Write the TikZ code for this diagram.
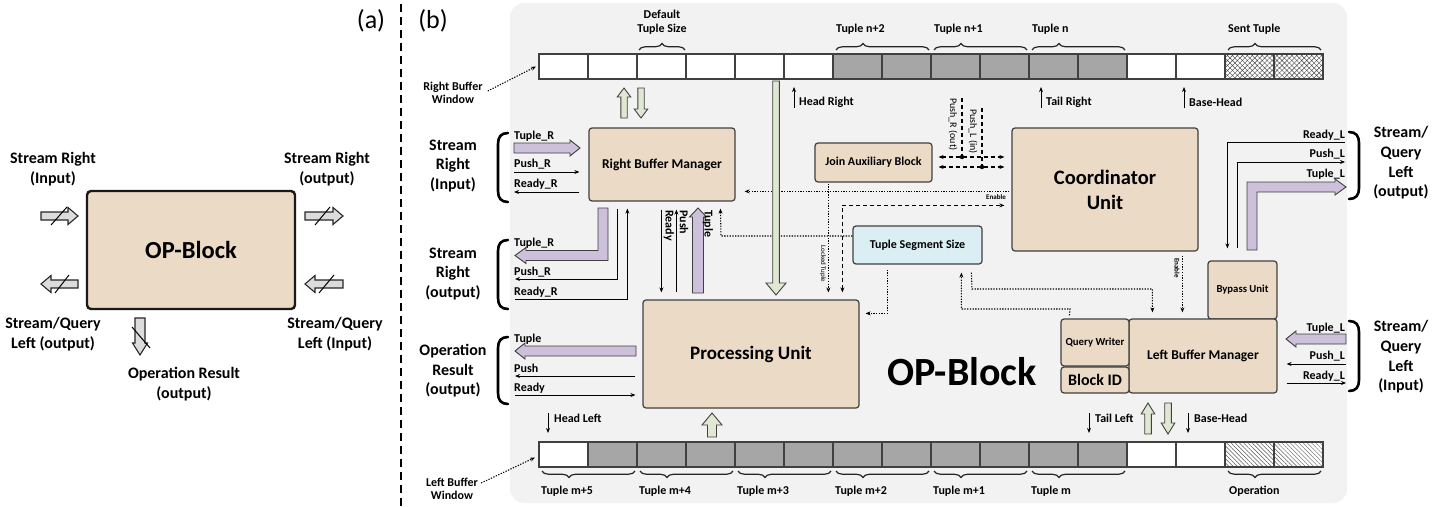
\documentclass[tikz,border=0pt]{standalone}
\usepackage{fontspec}
\setmainfont{Carlito}
\usetikzlibrary{arrows.meta,calc,patterns.meta,decorations.pathreplacing}

\definecolor{tanfill}{RGB}{235,218,198}
\definecolor{panel}{RGB}{242,242,242}
\definecolor{edge}{RGB}{64,64,64}
\definecolor{lilac}{RGB}{204,192,218}
\definecolor{sage}{RGB}{224,231,210}
\definecolor{ice}{RGB}{218,238,243}
\definecolor{slot}{RGB}{166,166,166}
\definecolor{steel}{RGB}{220,220,220}

\newcommand\setfs[2]{\fontsize{#1}{#2}\selectfont}

% vertical block arrow: style, x, y of tail, y of tip, shaft half width, head half width, head length
\newcommand\vfat[7]{%
  \pgfmathsetmacro\fatbase{#4-(#7)*sign(#4-#3)}%
  \filldraw[#1] ({#2-#5},#3) -- ({#2-#5},\fatbase) -- ({#2-#6},\fatbase) -- (#2,#4)
    -- ({#2+#6},\fatbase) -- ({#2+#5},\fatbase) -- ({#2+#5},#3) -- cycle;}
% horizontal block arrow: style, y, x of tail, x of tip, shaft half width, head half width, head length
\newcommand\hfat[7]{%
  \pgfmathsetmacro\fatbase{#4-(#7)*sign(#4-#3)}%
  \filldraw[#1] (#3,{#2-#5}) -- (\fatbase,{#2-#5}) -- (\fatbase,{#2-#6}) -- (#4,#2)
    -- (\fatbase,{#2+#6}) -- (\fatbase,{#2+#5}) -- (#3,{#2+#5}) -- cycle;}
% signal-group brackets on the left and right edges of the panel
\newcommand\openbrk[2]{\draw[brk] (508,#1) .. controls (501,#1) and (498,{#1+4}) .. (498,{#1+11})
    -- (498,{#2-11}) .. controls (498,{#2-4}) and (501,#2) .. (508,#2);}
\newcommand\closebrk[2]{\draw[brk] (1349,#1) .. controls (1356,#1) and (1359,{#1+4}) .. (1359,{#1+11})
    -- (1359,{#2-11}) .. controls (1359,{#2-4}) and (1356,#2) .. (1349,#2);}

\tikzset{
  blk/.style={draw=edge, line width=1.2pt, fill=tanfill, rounded corners=3pt, inner sep=0pt, align=center},
  lbl/.style={font=\setfs{12}{13.5}\bfseries, inner sep=0pt},
  minilbl/.style={font=\setfs{7}{8}\bfseries, inner sep=0pt},
  biglbl/.style={font=\setfs{16}{19.6}\bfseries, align=center, inner sep=0pt},
  alabel/.style={font=\setfs{16}{20}\bfseries, align=center, inner sep=0pt},
  wire/.style={line width=1pt},
  ptr/.style={-{Stealth[length=5pt,width=4pt]}},
  dptr/.style={{Stealth[length=5pt,width=4pt]}-{Stealth[length=5pt,width=4pt]}},
  dotline/.style={line width=1.05pt, dash pattern=on 1.3pt off 1.4pt},
  dashline/.style={line width=1.2pt, dash pattern=on 4pt off 3pt},
  blockarrow/.style={draw=edge, line width=0.9pt, line join=miter},
  brk/.style={line width=2.6pt, line cap=round},
  cell/.style={draw=edge, line width=1.1pt, minimum width=49pt, minimum height=25pt, inner sep=0pt, outer sep=0pt},
  tbrace/.style={decorate, decoration={brace, amplitude=6.5pt, aspect=#1}, line width=1.2pt, draw=black!85},
  tbrace/.default=0.29,
  bbrace/.style={decorate, decoration={brace, mirror, amplitude=6.5pt, aspect=#1}, line width=1.2pt, draw=black!85},
  bbrace/.default=0.29,
}

\begin{document}
\begin{tikzpicture}[x=1pt,y=-1pt]
\useasboundingbox (0,0) rectangle (1450,506);

%% ================= panel (a): the block as a symbol =================
\node[font=\setfs{26}{30}, inner sep=0pt] (taga) at (371,21) {(a)};
\draw[line width=1.4pt, dash pattern=on 8pt off 5pt] (401,4) -- (401,506);

\node[draw=black!90, line width=2.4pt, fill=tanfill, rounded corners=4pt,
      minimum width=208pt, minimum height=118pt, inner sep=0pt,
      font=\setfs{24.5}{28}\bfseries] (opa) at (191,250) {OP-Block};

\node[alabel] (asri) at (53,169) {Stream Right\\(Input)};
\node[alabel] (asro) at (327,169) {Stream Right\\(output)};
\node[alabel] (asqlo) at (53,334) {Stream/Query\\Left (output)};
\node[alabel] (asqli) at (335,334) {Stream/Query\\Left (Input)};
\node[alabel] (aopr) at (184,384) {Operation Result\\(output)};

\hfat{blockarrow, fill=steel, draw=black!85, line width=1.1pt}{216}{41}{78}{4}{8.5}{10}
\hfat{blockarrow, fill=steel, draw=black!85, line width=1.1pt}{216}{305}{343}{4}{8.5}{10}
\hfat{blockarrow, fill=steel, draw=black!85, line width=1.1pt}{284}{78}{41}{4}{8.5}{10}
\hfat{blockarrow, fill=steel, draw=black!85, line width=1.1pt}{284}{343}{305}{4}{8.5}{10}
\vfat{blockarrow, fill=steel, draw=black!85, line width=1.1pt}{140}{318}{355}{5}{7.5}{12}
\draw[line width=1pt] (51,225) -- (67,207);
\draw[line width=1pt] (315,225) -- (330,207);
\draw[line width=1pt] (55,293) -- (69,275);
\draw[line width=1pt] (319,293) -- (334,275);
\draw[line width=1pt] (132,327) -- (150,348);

%% ================= panel (b): internal structure =================
\fill[panel, rounded corners=14pt] (510,3) rectangle (1347,503);
\node[font=\setfs{26}{30}, inner sep=0pt] (tagb) at (433,21) {(b)};

% right buffer window
\foreach \i/\f in {0/white,1/white,2/white,3/white,4/white,5/white,6/slot,7/slot,8/slot,9/slot,10/slot,11/slot,12/white,13/white}
  \node[cell, fill=\f] (tb\i) at ({563.5+49*\i},66.5) {};
\foreach \i in {14,15}
  \node[cell, preaction={fill=white}, pattern={Hatch[angle=45,distance=3.5pt,line width=0.45pt]}, pattern color=black!70] (tb\i) at ({563.5+49*\i},66.5) {};

% left buffer window
\foreach \i/\f in {0/white,1/slot,2/slot,3/slot,4/slot,5/slot,6/slot,7/slot,8/slot,9/slot,10/slot,11/slot,12/white,13/white}
  \node[cell, fill=\f] (bb\i) at ({563.5+49*\i},454.5) {};
\foreach \i in {14,15}
  \node[cell, preaction={fill=white}, pattern={Lines[angle=-45,distance=3pt,line width=0.45pt]}, pattern color=black!65] (bb\i) at ({563.5+49*\i},454.5) {};

% braces over the right buffer
\draw[tbrace=0.5] ($(tb2.north west)+(2,-4)$) -- ($(tb2.north east)+(-1,-4)$);
\draw[tbrace] ($(tb6.north west)+(3,-4)$) -- ($(tb7.north east)+(-2,-4)$);
\draw[tbrace] ($(tb8.north west)+(3,-4)$) -- ($(tb9.north east)+(-2,-4)$);
\draw[tbrace] ($(tb10.north west)+(3,-4)$) -- ($(tb11.north east)+(-2,-4)$);
\draw[tbrace] ($(tb14.north west)+(3,-4)$) -- ($(tb15.north east)+(-2,-4)$);
\node[lbl, align=center] (dts) at (662,22) {Default\\Tuple Size};
\node[lbl, anchor=west] (tn2) at (836,29) {Tuple n+2};
\node[lbl, anchor=west] (tn1) at (934,29) {Tuple n+1};
\node[lbl, anchor=west] (tn0) at (1032,29) {Tuple n};
\node[lbl, anchor=west] (sent) at (1228,29) {Sent Tuple};

% braces under the left buffer
\draw[bbrace] ($(bb0.south west)+(3,4)$) -- ($(bb1.south east)+(-2,4)$);
\draw[bbrace] ($(bb2.south west)+(3,4)$) -- ($(bb3.south east)+(-2,4)$);
\draw[bbrace] ($(bb4.south west)+(3,4)$) -- ($(bb5.south east)+(-2,4)$);
\draw[bbrace] ($(bb6.south west)+(3,4)$) -- ($(bb7.south east)+(-2,4)$);
\draw[bbrace] ($(bb8.south west)+(3,4)$) -- ($(bb9.south east)+(-2,4)$);
\draw[bbrace] ($(bb10.south west)+(3,4)$) -- ($(bb11.south east)+(-2,4)$);
\draw[bbrace] ($(bb14.south west)+(3,4)$) -- ($(bb15.south east)+(-2,4)$);
\node[lbl, anchor=west] (tm5) at (541,491) {Tuple m+5};
\node[lbl, anchor=west] (tm4) at (639,491) {Tuple m+4};
\node[lbl, anchor=west] (tm3) at (737,491) {Tuple m+3};
\node[lbl, anchor=west] (tm2) at (835,491) {Tuple m+2};
\node[lbl, anchor=west] (tm1) at (933,491) {Tuple m+1};
\node[lbl, anchor=west] (tm0) at (1031,491) {Tuple m};
\node[lbl, anchor=west] (oper) at (1229,491) {Operation};

% window captions
\node[lbl, align=center] (rbw) at (453,93) {Right Buffer\\Window};
\node[lbl, align=center] (lbw) at (452,489) {Left Buffer\\Window};
\draw[dotline, ptr] ($(rbw.east)+(5,-2)$) -- ($(tb0.west)+(-3,0)$);
\draw[dotline, ptr] ($(lbw.east)+(3,-6)$) -- ($(bb0.west)+(-4,3)$);

% buffer pointers
\draw[wire, ptr] ($(tb5.south west)+(10,29)$) -- ($(tb5.south west)+(10,8)$);
\node[lbl, anchor=west] (hr) at (799,102) {Head Right};
\draw[wire, ptr] ($(tb10.south west)+(12,29)$) -- ($(tb10.south west)+(12,8)$);
\node[lbl, anchor=west] (tr) at (1046,102) {Tail Right};
\draw[wire, ptr] ($(tb13.south west)+(8,29)$) -- ($(tb13.south west)+(8,8)$);
\node[lbl, anchor=west] (bhr) at (1189,102) {Base-Head};
\draw[wire, ptr] ($(bb0.north west)+(9,-29)$) -- ($(bb0.north west)+(9,-9)$);
\node[lbl, anchor=west] (hl) at (554,418) {Head Left};
\draw[wire, ptr] ($(bb11.north west)+(11,-29)$) -- ($(bb11.north west)+(11,-9)$);
\node[lbl, anchor=west] (tl) at (1095,418) {Tail Left};
\draw[wire, ptr] ($(bb13.north west)+(12,-29)$) -- ($(bb13.north west)+(12,-9)$);
\node[lbl, anchor=west] (bhl) at (1194,418) {Base-Head};

% functional blocks
\node[blk, minimum width=146pt, minimum height=73pt, font=\setfs{13.5}{16}\bfseries] (rbm) at (662,164.5) {Right Buffer Manager};
\node[blk, minimum width=216pt, minimum height=108pt, font=\setfs{19}{22}\bfseries] (pu) at (751,354) {Processing Unit};
\node[blk, minimum width=117pt, minimum height=39pt, font=\setfs{12}{14}\bfseries] (jab) at (873.5,162.5) {Join Auxiliary Block};
\node[blk, fill=ice, minimum width=129pt, minimum height=38pt, font=\setfs{12}{14}\bfseries] (tss) at (917.5,245) {Tuple Segment Size};
\node[blk, minimum width=186pt, minimum height=123pt, font=\setfs{20.5}{25}\bfseries] (coord) at (1105,189.5) {Coordinator\\Unit};
\node[blk, minimum width=69pt, minimum height=58pt, font=\setfs{10.7}{13}\bfseries] (bypass) at (1242.5,290) {Bypass Unit};
\node[blk, minimum width=148pt, minimum height=74pt, font=\setfs{13.5}{16}\bfseries] (lbm) at (1203,356) {Left Buffer Manager};
\node[blk, minimum width=68pt, minimum height=47pt, font=\setfs{10.8}{13}\bfseries] (qw) at (1095,342.5) {Query Writer};
\node[blk, minimum width=68pt, minimum height=26pt, font=\setfs{16}{18}\bfseries] (bid) at (1095,380) {Block ID};
\node[font=\setfs{40}{44}\bfseries, inner sep=0pt] (title) at (962,372) {OP-Block};

% dotted control lines
\draw[dotline, ptr] ($(coord.north west)+(-2,64)$) -- ($(rbm.north east)+(9,64)$);
\node[minilbl, anchor=east] (en1) at (1006,197) {Enable};
\draw[dotline, ptr] ($(jab.south west)+(14,1)$) -- ($(pu.north west)+(186,-7)$);
\node[minilbl, font=\setfs{7}{8}, rotate=-90] (lock) at (823,264) {Locked Tuple};
\draw[dotline, ptr] (tss.west |- 0,236) -- (721,236) -- ($(rbm.south west)+(132,7)$);
\draw[dotline, ptr] ($(tss.south west)+(35,5)$) |- ($(pu.north east)+(6,14)$);
\draw[dotline, ptr] ($(qw.north west)+(9,-3)$) -- (1070,309) -| ($(tss.south west)+(109,8)$);
\draw[dotline, ptr] ($(tss.south west)+(119,8)$) -- (972,289) -| ($(lbm.north west)+(24,-6)$);
\draw[dotline, ptr] ($(coord.south west)+(171,4)$) -- ($(lbm.north west)+(54,-6)$);
\node[minilbl, rotate=-90] (en2) at (1177,268) {Enable};

% dashed coordination lines
\draw[dashline, dptr] ($(pu.north west)+(200,-7)$) |- ($(coord.north west)+(-7,78)$);
\draw[dashline] (962,98) -- (962,157);
\draw[dashline] (982,108) -- (982,167);
\draw[dashline, dptr] ($(jab.east)+(6,-5.5)$) -- ($(coord.west)+(-7,-32.5)$);
\draw[dashline, dptr] ($(jab.east)+(6,4.5)$) -- ($(coord.west)+(-7,-22.5)$);
\fill (962,157) circle (2.2pt);
\fill (982,167) circle (2.2pt);
\node[font=\setfs{10}{12}, inner sep=0pt, rotate=-90, anchor=west] (pro) at (953,98) {Push\_R (out)};
\node[font=\setfs{10}{12}, inner sep=0pt, rotate=-90, anchor=west] (pli) at (973,109) {Push\_L (in)};

% block arrows to and from the buffers
\vfat{blockarrow, fill=sage}{624}{118}{88}{3.2}{6.8}{9}
\vfat{blockarrow, fill=sage}{641}{88}{118}{3.2}{6.8}{9}
\vfat{blockarrow, fill=sage}{776}{81}{295}{3.3}{10}{12}
\vfat{blockarrow, fill=sage}{712}{437}{413}{4.5}{10}{12}
\vfat{blockarrow, fill=sage}{1148}{434}{403}{3.3}{6.8}{11}
\vfat{blockarrow, fill=sage}{1168}{403}{434}{3.3}{6.8}{11}

% Right Buffer Manager <-> Processing Unit
\draw[wire, ptr] ($(rbm.south west)+(73,8)$) -- ($(pu.north west)+(19,-7)$);
\draw[wire, ptr] ($(pu.north west)+(34,-7)$) -- ($(rbm.south west)+(88,8)$);
\vfat{blockarrow, fill=lilac}{698}{293}{208}{5.5}{8.5}{9}
\node[lbl, rotate=-90, anchor=west] (rdy) at (669,210) {Ready};
\node[lbl, rotate=-90, anchor=west] (psh) at (684,210) {Push};
\node[lbl, rotate=-90, anchor=west] (tpl) at (708,210) {Tuple};

% Stream Right (Input)
\openbrk{133}{202}
\node[biglbl] (sri) at (453,166) {Stream\\Right\\(Input)};
\hfat{blockarrow, fill=lilac}{148}{514}{580}{5}{8}{10}
\draw[wire, ptr] (514,172) -- ($(rbm.west)+(-9,7.5)$);
\draw[wire, ptr] ($(rbm.west)+(-9,27.5)$) -- (514,192);
\node[lbl, anchor=west] (l1) at (514,136) {Tuple\_R};
\node[lbl, anchor=west] (l2) at (514,164) {Push\_R};
\node[lbl, anchor=west] (l3) at (514,184) {Ready\_R};

% Stream Right (output)
\openbrk{240}{309}
\node[biglbl] (sro) at (453,274) {Stream\\Right\\(output)};
\filldraw[blockarrow, fill=lilac] (598,208) -- (608,208) -- (608,260.5) -- (526,260.5) -- (526,263.5)
   -- (515,255.5) -- (526,247.5) -- (526,250.5) -- (598,250.5) -- cycle;
\draw[wire, ptr] ($(rbm.south west)+(29,7)$) |- (515,279);
\draw[wire, ptr] (515,299) -| ($(rbm.south west)+(39,7)$);
\node[lbl, anchor=west] (l4) at (514,243) {Tuple\_R};
\node[lbl, anchor=west] (l5) at (514,272) {Push\_R};
\node[lbl, anchor=west] (l6) at (514,292) {Ready\_R};

% Operation Result (output)
\openbrk{337}{404}
\node[biglbl] (opr) at (453,371) {Operation\\Result\\(output)};
\hfat{blockarrow, fill=lilac}{351}{636}{515}{5}{8}{10}
\draw[wire, ptr] ($(pu.west)+(-7,22)$) -- (515,376);
\draw[wire, ptr] (515,395) -- ($(pu.west)+(-7,41)$);
\node[lbl, anchor=west] (l7) at (514,339) {Tuple};
\node[lbl, anchor=west] (l8) at (514,368) {Push};
\node[lbl, anchor=west] (l9) at (514,388) {Ready};

% Stream/Query Left (output)
\closebrk{132}{199}
\node[biglbl] (sqlo) at (1401,163) {Stream/\\Query\\Left\\(output)};
\draw[wire, ptr] (1345,142) -| ($(bypass.north west)+(20,-12)$);
\draw[wire, ptr] ($(bypass.north west)+(30,-12)$) |- (1345,162);
\filldraw[blockarrow, fill=lilac] (1247,250) -- (1247,182) -- (1335,182) -- (1335,179) -- (1346,187)
   -- (1335,195) -- (1335,192) -- (1257,192) -- (1257,250) -- cycle;
\node[lbl, anchor=east] (r1) at (1345,135) {Ready\_L};
\node[lbl, anchor=east] (r2) at (1345,154) {Push\_L};
\node[lbl, anchor=east] (r3) at (1345,174) {Tuple\_L};

% Stream/Query Left (Input)
\closebrk{321}{391}
\node[biglbl] (sqli) at (1401,357) {Stream/\\Query\\Left\\(Input)};
\hfat{blockarrow, fill=lilac}{339}{1346}{1286}{5}{8}{10}
\draw[wire, ptr] (1346,364) -- ($(lbm.east)+(9,8)$);
\draw[wire, ptr] ($(lbm.east)+(9,27)$) -- (1346,383);
\node[lbl, anchor=east] (r4) at (1345,328) {Tuple\_L};
\node[lbl, anchor=east] (r5) at (1345,356) {Push\_L};
\node[lbl, anchor=east] (r6) at (1345,376) {Ready\_L};

\end{tikzpicture}
\end{document}
